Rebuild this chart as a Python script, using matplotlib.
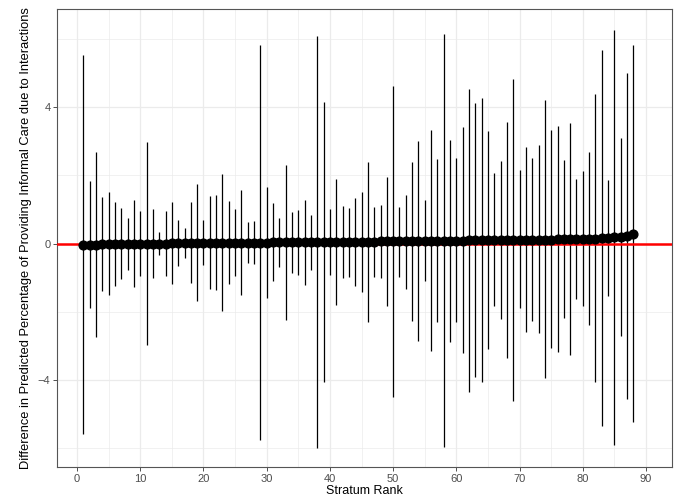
import matplotlib
matplotlib.use('Agg')
import matplotlib.pyplot as plt
from matplotlib.ticker import MultipleLocator

plt.rcParams['font.family'] = ['Liberation Sans', 'DejaVu Sans']

# stratum rank 1..88 with point estimate and interval bounds
rank = list(range(1, 89))

estimate = [
    -0.05, -0.04, -0.03, -0.025, -0.02, -0.018, -0.015, -0.012, -0.01, -0.008,
    -0.005, -0.003, 0.0, 0.002, 0.004, 0.006, 0.008, 0.01, 0.012, 0.014,
    0.016, 0.018, 0.02, 0.022, 0.023, 0.025, 0.027, 0.029, 0.03, 0.032,
    0.034, 0.036, 0.037, 0.039, 0.041, 0.043, 0.045, 0.047, 0.049, 0.05,
    0.052, 0.054, 0.055, 0.057, 0.059, 0.061, 0.062, 0.064, 0.066, 0.068,
    0.07, 0.072, 0.074, 0.076, 0.078, 0.08, 0.082, 0.084, 0.086, 0.088,
    0.09, 0.092, 0.094, 0.096, 0.098, 0.1, 0.102, 0.104, 0.106, 0.108,
    0.11, 0.112, 0.115, 0.118, 0.12, 0.123, 0.126, 0.13, 0.134, 0.138,
    0.143, 0.148, 0.155, 0.165, 0.18, 0.2, 0.225, 0.28,
]

upper = [
    5.52, 1.84, 2.68, 1.36, 1.50, 1.23, 1.05, 0.76, 1.29, 0.96,
    2.99, 1.02, 0.33, 0.97, 1.23, 0.68, 0.45, 1.21, 1.74, 0.68,
    1.39, 1.43, 2.05, 1.24, 1.02, 1.58, 0.64, 0.66, 5.81, 1.66,
    1.18, 0.76, 2.30, 0.92, 0.98, 1.29, 0.85, 6.08, 4.15, 1.02,
    1.89, 1.09, 1.05, 1.34, 1.51, 2.40, 1.08, 1.13, 1.95, 4.63,
    1.08, 1.44, 2.40, 3.00, 1.27, 3.32, 2.48, 6.16, 3.05, 2.51,
    3.42, 4.54, 4.12, 4.28, 3.29, 2.06, 2.43, 3.56, 4.83, 2.15,
    2.82, 2.50, 2.88, 4.21, 3.33, 3.45, 2.45, 3.55, 1.90, 2.12,
    2.70, 4.39, 5.68, 1.88, 6.27, 3.10, 5.01, 5.81,
]

lower = [
    -5.58, -1.89, -2.73, -1.39, -1.51, -1.24, -1.04, -0.77, -1.27, -0.95,
    -2.97, -1.00, -0.33, -0.94, -1.19, -0.65, -0.42, -1.16, -1.68, -0.63,
    -1.34, -1.37, -1.99, -1.19, -0.95, -1.51, -0.58, -0.61, -5.75, -1.58,
    -1.11, -0.70, -2.23, -0.85, -0.91, -1.21, -0.77, -6.00, -4.05, -0.93,
    -1.80, -1.00, -0.97, -1.24, -1.42, -2.31, -0.97, -1.02, -1.84, -4.51,
    -0.97, -1.32, -2.26, -2.85, -1.11, -3.14, -2.31, -5.97, -2.88, -2.31,
    -3.22, -4.34, -3.92, -4.07, -3.09, -1.84, -2.22, -3.34, -4.61, -1.90,
    -2.58, -2.26, -2.63, -3.95, -3.07, -3.19, -2.19, -3.26, -1.61, -1.83,
    -2.39, -4.07, -5.36, -1.53, -5.90, -2.70, -4.56, -5.24,
]

fig = plt.figure(figsize=(6.76, 5.0), dpi=100)
ax = fig.add_axes([0.085, 0.066, 0.909, 0.916])

# ggplot theme_bw look
ax.set_facecolor('white')
ax.xaxis.set_major_locator(MultipleLocator(10))
ax.xaxis.set_minor_locator(MultipleLocator(5))
ax.yaxis.set_major_locator(MultipleLocator(4))
ax.yaxis.set_minor_locator(MultipleLocator(2))
ax.grid(which='major', color='#EBEBEB', linewidth=0.9)
ax.grid(which='minor', color='#EBEBEB', linewidth=0.5)
ax.set_axisbelow(True)
for s in ax.spines.values():
    s.set_color('#555555')
    s.set_linewidth(0.8)
ax.tick_params(which='major', length=3, width=0.6, color='#333333',
               labelcolor='#4D4D4D', labelsize=8, pad=2)
ax.tick_params(which='minor', length=0)

ax.vlines(rank, lower, upper, color='black', linewidth=0.9, zorder=2)
ax.axhline(0, color='#FF0000', linewidth=1.8, zorder=3)
ax.plot(rank, estimate, 'o', color='black', markersize=6.3, zorder=4)

ax.set_xlim(-3.1, 94.1)
ax.set_ylim(-6.55, 6.88)
ax.set_xlabel('Stratum Rank', fontsize=9, labelpad=1)
ax.set_ylabel('Difference in Predicted Percentage of Providing Informal Care due to Interactions',
              fontsize=9.3, labelpad=4)

plt.savefig('out.png', dpi=100)
